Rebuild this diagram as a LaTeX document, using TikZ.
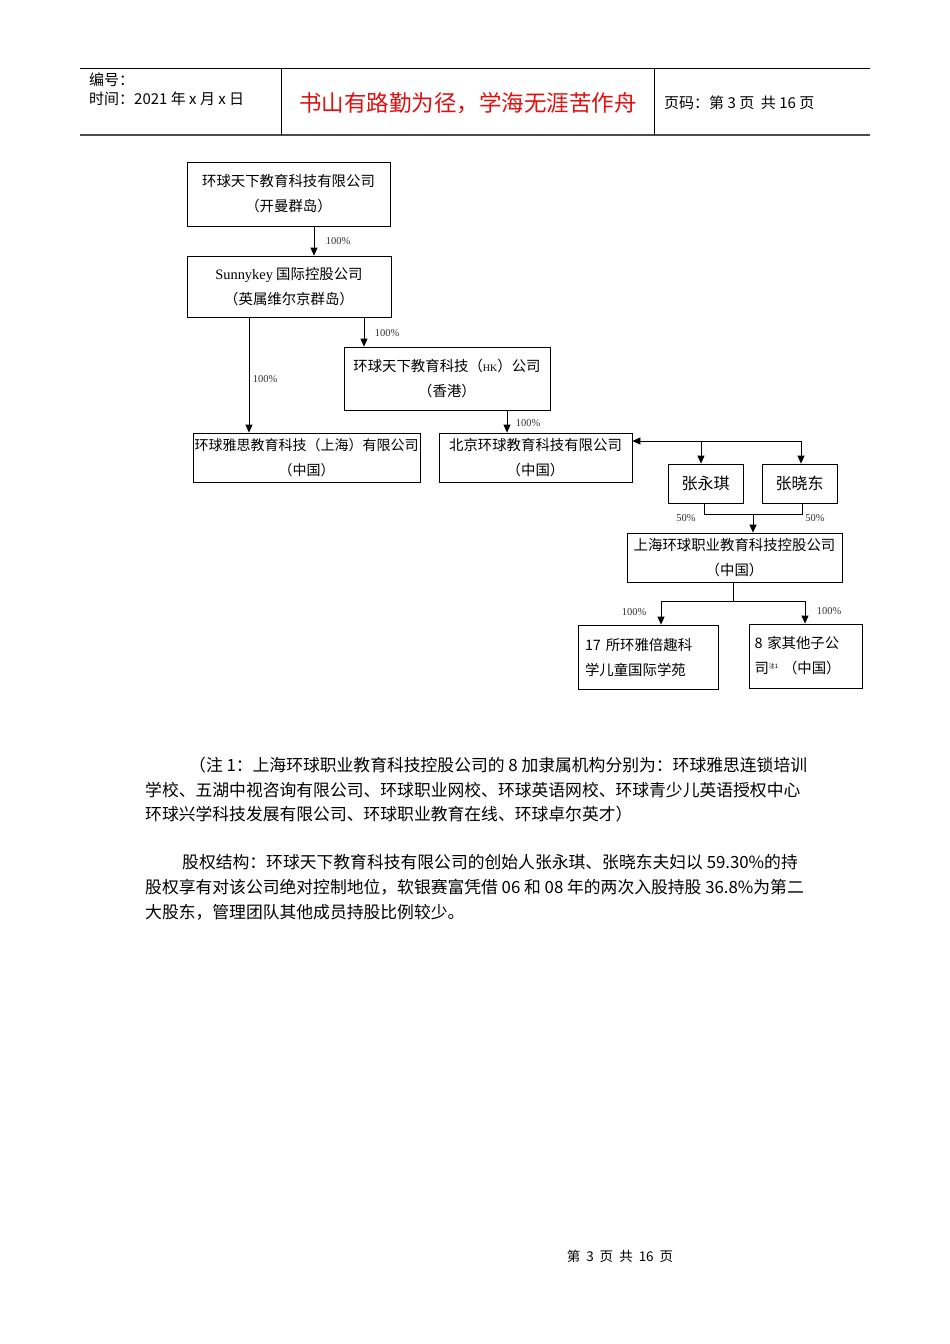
\documentclass[tikz,border=0pt]{standalone}
\usepackage{fontspec}
\setmainfont{Liberation Serif}
\newfontfamily\cjk{Noto Sans CJK SC}
\newfontfamily\lat{Liberation Serif}
\usetikzlibrary{arrows.meta}
\begin{document}
\begin{tikzpicture}[x=1pt,y=-1pt,
  box/.style={draw,line width=0.8pt,inner sep=0pt,align=center,font=\cjk\fontsize{14.4}{25}\selectfont},
  lbox/.style={draw,line width=0.8pt,inner sep=0pt,align=left,font=\cjk\fontsize{14.4}{25}\selectfont},
  con/.style={line width=0.8pt},
  arr/.style={line width=0.8pt,-{Triangle[length=8pt,width=7pt]}},
  pct/.style={font=\lat\fontsize{10.5}{12}\selectfont,inner sep=0pt,text=black!80},
  body/.style={anchor=west,inner sep=0pt,font=\cjk\fontsize{16.8}{20}\selectfont},
  hd/.style={anchor=west,inner sep=0pt,font=\cjk\fontsize{15}{18}\selectfont}]
\useasboundingbox (0,0) rectangle (950,1344);
\fill[white] (0,0) rectangle (950,1344);
% header
\draw[line width=0.8pt] (80,68) -- (870,68);
\draw[line width=1.2pt,black!70] (80,135) -- (870,135);
\draw[line width=0.8pt] (281,68) -- (281,135);
\draw[line width=0.8pt] (654,68) -- (654,135);
\node[hd] (h1) at (89,80) {编号：};
\node[hd] (h2) at (89,99) {时间：2021 年 x 月 x 日};
\node[inner sep=0pt,font=\cjk\fontsize{22.5}{24}\selectfont,text={rgb,255:red,225;green,15;blue,15}] (h3) at (468,103) {书山有路勤为径，学海无涯苦作舟};
\node[hd] (h4) at (664,103) {页码：第 3 页\ \ 共 16 页};
% boxes
\node[box,minimum width=203pt,minimum height=64pt] (b1) at (288.5,194) {环球天下教育科技有限公司\\（开曼群岛）};
\node[box,minimum width=204pt,minimum height=61pt] (b2) at (289,286.5) {{\lat Sunnykey} 国际控股公司\\（英属维尔京群岛）};
\node[box,minimum width=206pt,minimum height=63pt] (b3) at (447,378.5) {环球天下教育科技（{\lat\fontsize{10}{12}\selectfont HK}）公司\\（香港）};
\node[box,minimum width=227pt,minimum height=49pt,font=\cjk\fontsize{14}{25}\selectfont] (b4) at (306.5,457.5) {环球雅思教育科技（上海）有限公司\\（中国）};
\node[box,minimum width=193pt,minimum height=49pt] (b5) at (535.5,457.5) {北京环球教育科技有限公司\\（中国）};
\node[box,minimum width=75pt,minimum height=39pt,font=\cjk\fontsize{16}{20}\selectfont] (b6) at (705.5,483.5) {张永琪};
\node[box,minimum width=75pt,minimum height=39pt,font=\cjk\fontsize{16}{20}\selectfont] (b7) at (799.5,483.5) {张晓东};
\node[box,minimum width=215pt,minimum height=49pt] (b8) at (734.5,557.5) {上海环球职业教育科技控股公司\\（中国）};
\node[lbox,minimum width=140pt,minimum height=64pt,text width=126pt] (b9) at (648,657) {17 所环雅倍趣科\\学儿童国际学苑};
\node[lbox,minimum width=113pt,minimum height=64pt,text width=102pt] (b10) at (805.5,656) {8 家其他子公\\司\raisebox{5pt}{\fontsize{6}{6}\selectfont 注1}\ （中国）};
% connectors
\draw[arr] (314,0 |- b1.south) -- (314,0 |- b2.north);
\node[pct] (p1) at (338,241) {100\%};
\draw[arr] (249,0 |- b2.south) -- (249,0 |- b4.north);
\node[pct] (p2) at (265,379) {100\%};
\draw[arr] (364,0 |- b2.south) -- (364,0 |- b3.north);
\node[pct] (p3) at (387,333) {100\%};
\draw[arr] (507,0 |- b3.south) -- (507,0 |- b5.north);
\node[pct] (p4) at (528,423) {100\%};
\coordinate (t1) at (701,441);
\coordinate (t2) at (801,441);
\draw[arr] (t2) -- (b5.east |- t2);
\draw[arr] (t1) -- (t1 |- b6.north);
\draw[arr] (t2) -- (t2 |- b7.north);
\coordinate (j1) at (753,514);
\draw[con] (704,0 |- b6.south) -- (704,514) -- (802,514) -- (802,0 |- b7.south);
\draw[arr] (j1) -- (j1 |- b8.north);
\node[pct] (p5) at (686,518) {50\%};
\node[pct] (p6) at (815,518) {50\%};
\coordinate (j2) at (733,601);
\draw[con] (j2 |- b8.south) -- (j2);
\draw[con] (661,601) -- (805,601);
\draw[arr] (661,601) -- (661,0 |- b9.north);
\draw[arr] (805,601) -- (805,0 |- b10.north);
\node[pct] (p7) at (634,612) {100\%};
\node[pct] (p8) at (829,611) {100\%};
% body text
\node[body] (n1) at (189,765) {（注 1：上海环球职业教育科技控股公司的 8 加隶属机构分别为：环球雅思连锁培训};
\node[body] (n2) at (145,790) {学校、五湖中视咨询有限公司、环球职业网校、环球英语网校、环球青少儿英语授权中心};
\node[body] (n3) at (145,814) {环球兴学科技发展有限公司、环球职业教育在线、环球卓尔英才）};
\node[body] (m1) at (182,862) {股权结构：环球天下教育科技有限公司的创始人张永琪、张晓东夫妇以 59.30\%的持};
\node[body] (m2) at (145,887) {股权享有对该公司绝对控制地位，软银赛富凭借 06 和 08 年的两次入股持股 36.8\%为第二};
\node[body] (m3) at (145,912) {大股东，管理团队其他成员持股比例较少。};
% footer
\node[inner sep=0pt,font=\cjk\fontsize{13.5}{16}\selectfont] (f) at (620,1256) {第\hspace{6pt}3\hspace{6pt}页\hspace{6pt}共\hspace{6pt}16\hspace{6pt}页};
\end{tikzpicture}
\end{document}
